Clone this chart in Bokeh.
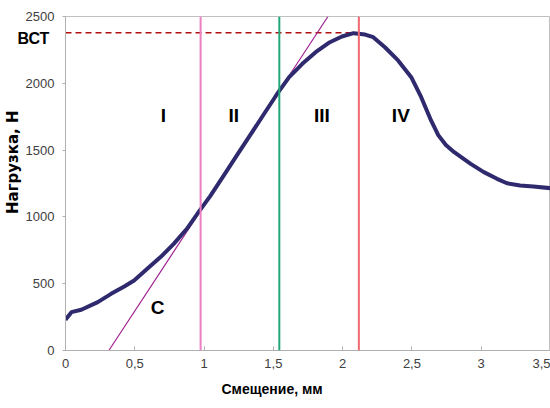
from bokeh.plotting import figure
from bokeh.models import Span, FixedTicker, Title, Label
from bokeh.embed import file_html
from bokeh.resources import INLINE

# displacement, mm / load, N
disp = [0.0, 0.005, 0.043, 0.114, 0.233, 0.329, 0.424, 0.495, 0.590, 0.686,
        0.781, 0.876, 0.960, 1.043, 1.138, 1.233, 1.329, 1.424, 1.507, 1.531,
        1.614, 1.709, 1.805, 1.900, 1.995, 2.079, 2.162, 2.221, 2.305, 2.400,
        2.495, 2.567, 2.638, 2.690, 2.745, 2.805, 2.924, 3.019, 3.114, 3.186,
        3.281, 3.376, 3.500]
load = [230, 237, 287, 305, 362, 424, 479, 524, 611, 699,
        798, 911, 1035, 1154, 1304, 1455, 1606, 1757, 1888, 1926,
        2046, 2146, 2233, 2303, 2350, 2375, 2365, 2345, 2270, 2171,
        2046, 1896, 1722, 1612, 1538, 1484, 1397, 1335, 1285, 1252,
        1235, 1228, 1215]

# tangent line C
tan_x = [0.313, 1.894]
tan_y = [0, 2500]

# stage boundaries
bounds = [0.975, 1.543, 2.117]
bound_colors = ["#ee7fc0", "#22a878", "#f06870"]
bct = 2378

stages = ["I", "II", "III", "IV"]
stage_x = [0.707, 1.214, 1.85, 2.42]
stage_y = 1760

x_ticks = [0, 0.5, 1, 1.5, 2, 2.5, 3, 3.5]
x_tick_labels = ["0", "0,5", "1", "1,5", "2", "2,5", "3", "3,5"]
y_ticks = [0, 500, 1000, 1500, 2000, 2500]

p = figure(width=550, height=408, x_range=(0, 3.5), y_range=(0, 2500),
           output_backend="svg", toolbar_location=None,
           min_border_left=64, min_border_top=16, min_border_bottom=58,
           min_border_right=0)

p.grid.visible = False
p.outline_line_color = "#c0c0c0"
p.outline_line_width = 1
p.background_fill_color = "white"
p.border_fill_color = "white"

p.xaxis.ticker = FixedTicker(ticks=x_ticks)
p.xaxis.major_label_overrides = dict(zip(x_ticks, x_tick_labels))
p.yaxis.ticker = FixedTicker(ticks=y_ticks)
for ax in (p.xaxis, p.yaxis):
    ax.axis_line_color = "#b0b0b0"
    ax.major_tick_line_color = "#b0b0b0"
    ax.minor_tick_line_color = None
    ax.major_label_text_font = "Liberation Sans"
    ax.major_label_text_font_size = "13px"
    ax.major_label_text_color = "#404040"
p.xaxis.major_tick_in = 4
p.xaxis.major_tick_out = 0
p.yaxis.major_tick_in = 0
p.yaxis.major_tick_out = 3
p.xaxis.major_label_standoff = 8
p.yaxis.major_label_standoff = 8

# "ВСТ" mark left of the frame, at the level of the dashed line
p.add_layout(Title(text="ВСТ", align="left", offset=-48, standoff=-60,
                   text_font="Liberation Sans", text_font_style="bold",
                   text_font_size="16px", text_color="black"), "above")

# axis titles
p.add_layout(Title(text="Смещение, мм", align="left", offset=156, standoff=16,
                   text_font="Liberation Sans", text_font_style="bold",
                   text_font_size="14px", text_color="black"), "below")
p.add_layout(Title(text="Нагрузка, Н", align="right", offset=94, standoff=2,
                   text_font="DejaVu Sans", text_font_style="bold",
                   text_font_size="15px", text_color="black"), "left")

# stage borders
for bx, bc in zip(bounds, bound_colors):
    p.add_layout(Span(location=bx, dimension="height", line_color=bc, line_width=2))

# ultimate load line
p.line([0, bounds[2]], [bct, bct], line_color="#b01010", line_width=1.5, line_dash="6 4")

# tangent
p.line(tan_x, tan_y, line_color="#a0208e", line_width=1.2)

# load curve
p.line(disp, load, line_color="#2f2a6e", line_width=4, line_join="round")

bold = dict(text_font="Liberation Sans", text_font_style="bold", text_color="black")
for s, sx in zip(stages, stage_x):
    p.add_layout(Label(x=sx, y=stage_y, text=s, text_align="center",
                       text_baseline="middle", text_font_size="19px", **bold))
p.add_layout(Label(x=0.664, y=322, text="C", text_align="center",
                   text_baseline="middle", text_font_size="19px", **bold))

open("out.html", "w").write(file_html(p, INLINE))
